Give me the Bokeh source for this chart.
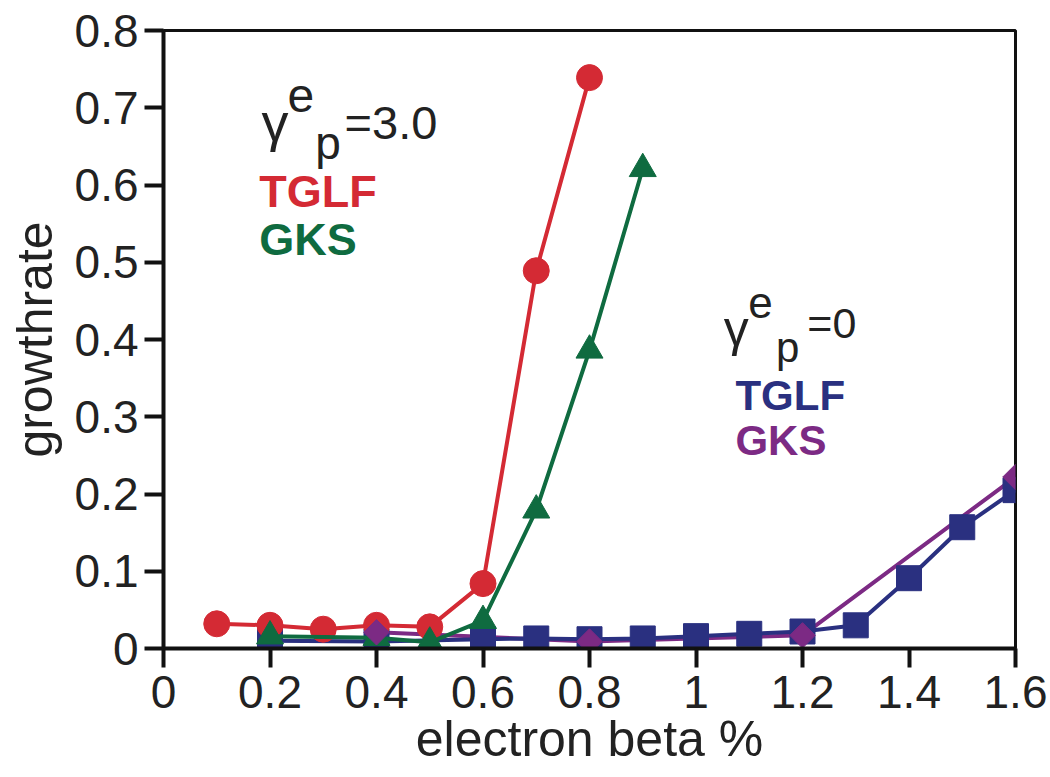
import numpy as np
from bokeh.plotting import figure
from bokeh.models import FixedTicker, Range1d, Label
from bokeh.embed import file_html
from bokeh.resources import INLINE

# electron beta (%) and linear growth rates for the two gradient cases
beta_tglf_hi = [0.1, 0.2, 0.3, 0.4, 0.5, 0.6, 0.7, 0.8]
gamma_tglf_hi = [0.032, 0.030, 0.025, 0.030, 0.028, 0.084, 0.489, 0.739]

beta_gks_hi = [0.2, 0.4, 0.5, 0.6, 0.7, 0.8, 0.9]
gamma_gks_hi = [0.016, 0.014, 0.008, 0.036, 0.179, 0.386, 0.621]

beta_tglf_0 = [0.2, 0.4, 0.6, 0.7, 0.8, 0.9, 1.0, 1.1, 1.2, 1.3, 1.4, 1.5, 1.6]
gamma_tglf_0 = [0.010, 0.009, 0.012, 0.013, 0.012, 0.013, 0.016, 0.019, 0.022,
                0.030, 0.091, 0.157, 0.205]

beta_gks_0 = [0.4, 0.8, 1.2, 1.6]
gamma_gks_0 = [0.021, 0.009, 0.017, 0.222]

x_ticks = [0, 0.2, 0.4, 0.6, 0.8, 1.0, 1.2, 1.4, 1.6]
x_tick_labels = ["0", "0.2", "0.4", "0.6", "0.8", "1", "1.2", "1.4", "1.6"]
y_ticks = [0, 0.1, 0.2, 0.3, 0.4, 0.5, 0.6, 0.7, 0.8]
y_tick_labels = ["0", "0.1", "0.2", "0.3", "0.4", "0.5", "0.6", "0.7", "0.8"]

RED = "#d42a34"
GREEN = "#0f6b40"
NAVY = "#2a3080"
PURPLE = "#7c2a84"
FONT = "Liberation Sans"

p = figure(width=1050, height=777, output_backend="svg", toolbar_location=None,
           x_range=Range1d(0, 1.6), y_range=Range1d(0, 0.8),
           min_border_left=163, min_border_right=35,
           min_border_top=30, min_border_bottom=129)
p.background_fill_color = "white"
p.border_fill_color = "white"
p.grid.visible = False
p.outline_line_color = "#111111"
p.outline_line_width = 3

for ax in (p.xaxis[0], p.yaxis[0]):
    ax.axis_line_width = 4
    ax.axis_line_color = "#111111"
    ax.major_tick_line_width = 4
    ax.major_tick_line_color = "#111111"
    ax.major_tick_in = 0
    ax.major_tick_out = 19
    ax.minor_tick_line_color = None
    ax.major_label_text_font = FONT
    ax.major_label_text_font_size = "46px"
    ax.major_label_text_color = "#222222"
    ax.axis_label_text_font = FONT
    ax.axis_label_text_font_size = "50px"
    ax.axis_label_text_font_style = "normal"
    ax.axis_label_text_color = "#222222"

p.xaxis.ticker = FixedTicker(ticks=x_ticks)
p.xaxis.major_label_overrides = dict(zip(x_ticks, x_tick_labels))
p.yaxis.ticker = FixedTicker(ticks=y_ticks)
p.yaxis.major_label_overrides = dict(zip(y_ticks, y_tick_labels))
p.xaxis.axis_label = "electron beta %"
p.yaxis.axis_label = "growthrate"
p.xaxis.major_label_standoff = 8
p.yaxis.major_label_standoff = 6
p.xaxis.axis_label_standoff = 0
p.yaxis.axis_label_standoff = 9

# drawing order: GKS line for gamma_p^e = 0 sits under the TGLF squares,
# its diamonds sit on top of everything
p.line(beta_gks_0, gamma_gks_0, line_color=PURPLE, line_width=4)
p.line(beta_tglf_0, gamma_tglf_0, line_color=NAVY, line_width=4)
p.scatter(beta_tglf_0, gamma_tglf_0, marker="square", size=25,
          fill_color=NAVY, line_color=NAVY)

# gamma_p^e = 3.0 case
p.line(beta_tglf_hi, gamma_tglf_hi, line_color=RED, line_width=4)
p.scatter(beta_tglf_hi, gamma_tglf_hi, marker="circle", size=26,
          fill_color=RED, line_color=RED)
p.line(beta_gks_hi, gamma_gks_hi, line_color=GREEN, line_width=4)
p.scatter(beta_gks_hi, gamma_gks_hi, marker="triangle", size=27,
          fill_color=GREEN, line_color=GREEN)

p.scatter(beta_gks_0, gamma_gks_0, marker="square", size=18, angle=np.pi / 4,
          fill_color=PURPLE, line_color=PURPLE)


def label(x, y, text, size, color="#222222", style="normal"):
    p.add_layout(Label(x=x, y=y, text=text, text_font=FONT,
                       text_font_size=f"{size}px", text_color=color,
                       text_font_style=style, text_baseline="alphabetic",
                       text_align="left"))


# annotation for the gamma_p^e = 3.0 curves
label(0.184, 0.682, "γ", 54)
label(0.233, 0.716, "e", 48)
label(0.285, 0.654, "p", 46)
label(0.340, 0.681, "=3.0", 47)
label(0.180, 0.592, "TGLF", 45, RED, "bold")
label(0.180, 0.529, "GKS", 45, GREEN, "bold")

# annotation for the gamma_p^e = 0 curves
label(1.052, 0.414, "γ", 50)
label(1.098, 0.448, "e", 44)
label(1.150, 0.389, "p", 42)
label(1.209, 0.421, "=0", 43)
label(1.074, 0.328, "TGLF", 42, NAVY, "bold")
label(1.074, 0.269, "GKS", 42, PURPLE, "bold")

open("out.html", "w").write(file_html(p, INLINE))
